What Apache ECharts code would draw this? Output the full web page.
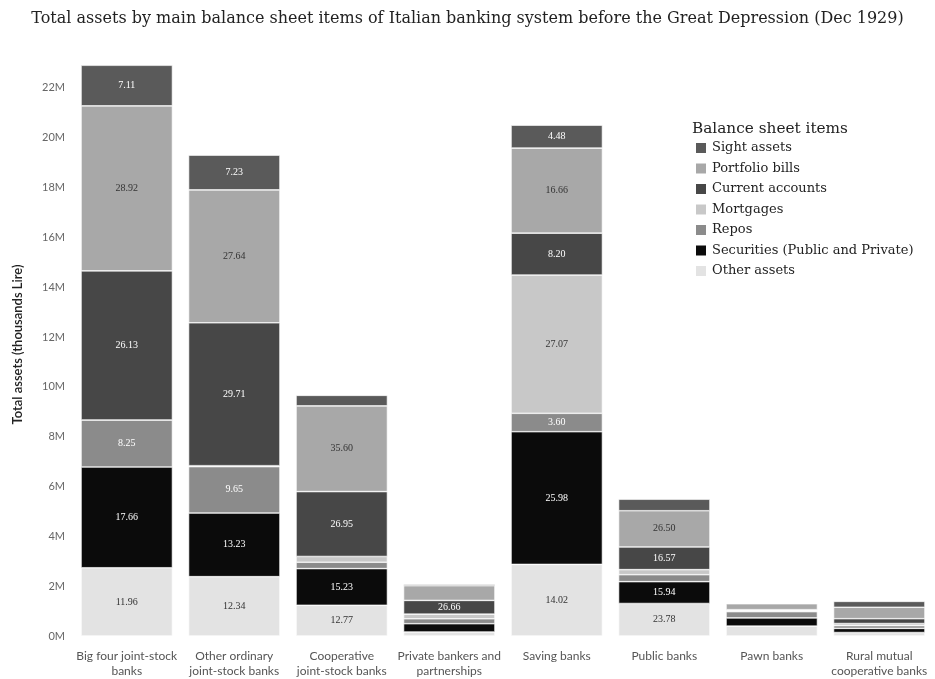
<!DOCTYPE html>
<html>
<head>
<meta charset="utf-8">
<script src="https://cdn.jsdelivr.net/npm/echarts@6/dist/echarts.min.js"></script>
<style>
  html, body { margin: 0; padding: 0; background: #fff; }
  #chart { width: 935px; height: 679px; }
</style>
</head>
<body>
<div id="chart"></div>
<script>
// bank groups (x axis)
var categories = [
  'Big four joint-stock\nbanks',
  'Other ordinary\njoint-stock banks',
  'Cooperative\njoint-stock banks',
  'Private bankers and\npartnerships',
  'Saving banks',
  'Public banks',
  'Pawn banks',
  'Rural mutual\ncooperative banks'
]

// total assets of each group, thousands Lire
var totals = [22900000, 19300000, 9660000, 2070000, 20500000, 5490000, 1320000, 1390000]

// share of each item in the group total (%), stacked bottom -> top
var otherAssets = [11.96, 12.34, 12.77, 7.84, 14.02, 23.78, 30, 10]
var securities = [17.66, 13.23, 15.23, 16.0, 25.98, 15.94, 25, 12]
var repos = [8.25, 9.65, 2.65, 9.5, 3.60, 5.1, 19, 8]
var mortgages = [0, 0.2, 2.40, 9.0, 27.07, 3.7, 4, 6]
var currentAccounts = [26.13, 29.71, 26.95, 26.66, 8.20, 16.57, 2, 14]
var portfolioBills = [28.92, 27.64, 35.60, 28.5, 16.66, 26.50, 18, 33]
var sightAssets = [7.11, 7.23, 4.40, 2.5, 4.48, 8.4, 2, 17]

var yTicks = { min: 0, max: 23400000, interval: 2000000 }

// segments too thin for a label in the original
var labelMin = 500000
var unlabelled = [['Portfolio bills', 3]]

var items = [
  { name: 'Other assets', shares: otherAssets, color: '#e3e3e3', text: '#333' },
  { name: 'Securities (Public and Private)', shares: securities, color: '#0b0b0b', text: '#fff' },
  { name: 'Repos', shares: repos, color: '#8b8b8b', text: '#fff' },
  { name: 'Mortgages', shares: mortgages, color: '#c8c8c8', text: '#333' },
  { name: 'Current accounts', shares: currentAccounts, color: '#474747', text: '#fff' },
  { name: 'Portfolio bills', shares: portfolioBills, color: '#a8a8a8', text: '#333' },
  { name: 'Sight assets', shares: sightAssets, color: '#5a5a5a', text: '#fff' }
]

function isHidden(name, idx) {
  return unlabelled.some(function (u) { return u[0] === name && u[1] === idx })
}

function buildSeries() {
  return items.map(function (item) {
    return {
      name: item.name,
      type: 'bar',
      stack: 'total',
      barCategoryGap: '15%',
      itemStyle: { color: item.color, borderColor: '#fff', borderWidth: 0.6 },
      label: {
        show: true,
        position: 'inside',
        color: item.text,
        fontFamily: 'Liberation Serif',
        fontSize: 10,
        formatter: function (p) {
          if (p.value < labelMin || isHidden(item.name, p.dataIndex)) return ''
          return item.shares[p.dataIndex].toFixed(2)
        }
      },
      data: item.shares.map(function (s, i) { return totals[i] * s / 100 })
    }
  })
}

var chart = echarts.init(document.getElementById('chart'))
chart.setOption({
  backgroundColor: '#fff',
  animation: false,
  title: [
    {
      text: 'Total assets by main balance sheet items of Italian banking system before the Great Depression (Dec 1929)',
      left: 'center',
      top: 6,
      textStyle: { fontFamily: 'DejaVu Serif', fontSize: 16, fontWeight: 'normal', color: '#222' }
    },
    {
      text: 'Balance sheet items',
      left: 687,
      top: 117,
      textStyle: { fontFamily: 'DejaVu Serif', fontSize: 15.3, fontWeight: 'normal', color: '#222' }
    }
  ],
  legend: {
    orient: 'vertical',
    left: 689,
    top: 136,
    itemWidth: 12,
    itemHeight: 12,
    itemGap: 6.5,
    icon: 'rect',
    data: items.map(function (it) { return it.name }).reverse(),
    textStyle: { fontFamily: 'DejaVu Serif', fontSize: 13, lineHeight: 14, color: '#222' }
  },
  grid: { left: 73, right: 2, top: 53, bottom: 41 },
  xAxis: {
    type: 'category',
    data: categories,
    axisLine: { show: false },
    axisTick: { show: false },
    axisLabel: { interval: 0, margin: 13, fontFamily: 'Lato', fontSize: 12, lineHeight: 15, color: '#555' }
  },
  yAxis: {
    type: 'value',
    min: yTicks.min,
    max: yTicks.max,
    interval: yTicks.interval,
    name: 'Total assets (thousands Lire)',
    nameLocation: 'middle',
    nameRotate: 90,
    nameGap: 49,
    nameTextStyle: { fontFamily: 'Lato', fontSize: 13, fontWeight: 600, color: '#222' },
    splitLine: { show: false },
    axisLine: { show: false },
    axisTick: { show: false },
    axisLabel: {
      showMaxLabel: false,
      margin: 8,
      fontFamily: 'Lato',
      fontSize: 11,
      color: '#666',
      formatter: function (v) { return (v / 1000000) + 'M' }
    }
  },
  series: buildSeries()
})
</script>
</body>
</html>
